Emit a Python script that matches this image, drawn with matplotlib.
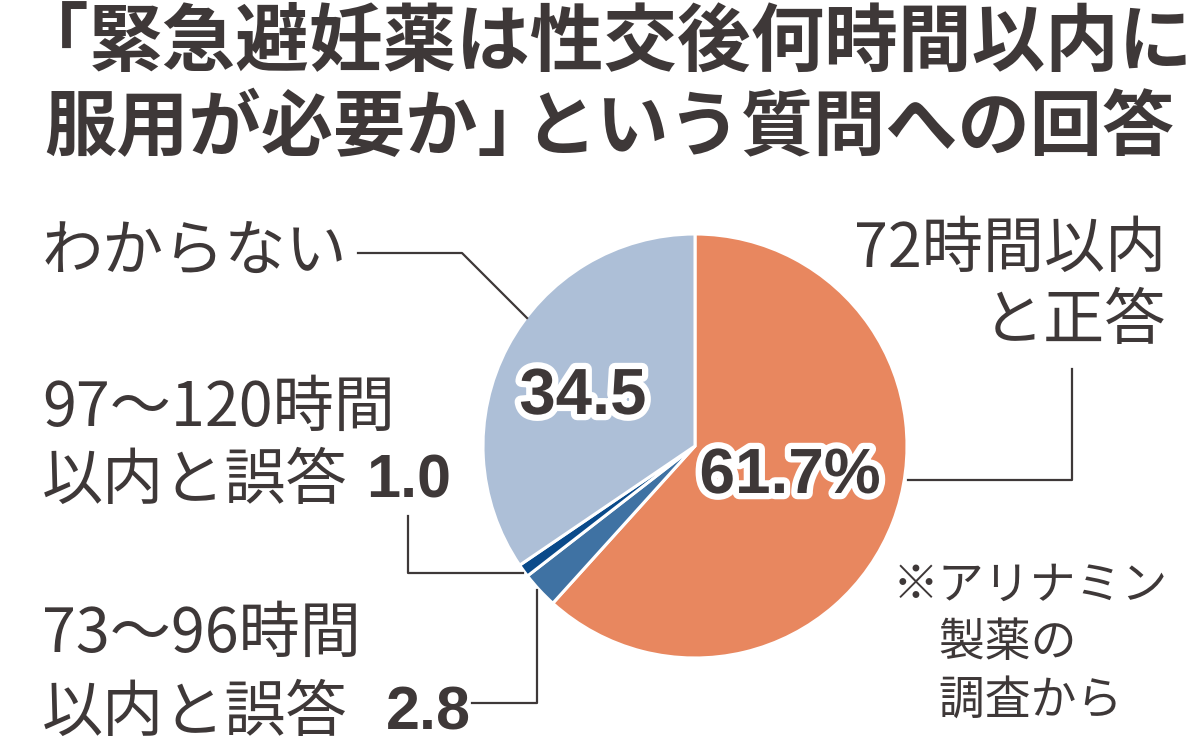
import matplotlib
matplotlib.use("Agg")
import matplotlib.pyplot as plt
import matplotlib.patheffects as pe

plt.rcParams['font.family'] = ['Noto Sans CJK JP', 'DejaVu Sans']

# data
categories = ['72時間以内と正答', '73〜96時間以内と誤答', '97〜120時間以内と誤答', 'わからない']
values = [61.7, 2.8, 1.0, 34.5]
colors = ['#E8875F', '#3F72A3', '#0A4A8A', '#ADBFD7']

title1 = ['「', '緊急避妊薬は性交後何時間以内に']
title2 = ['服用が必要か」', 'という質問への回答']
note = ['※アリナミン', '　製薬の', '　調査から']

W, H = 1200, 754
ink = '#3E3838'
num_font = ['Liberation Sans', 'DejaVu Sans']


def Y(y):
    # pixel-from-top -> data y
    return H - y


fig = plt.figure(figsize=(W / 100, H / 100), dpi=100)
ax = fig.add_axes([0, 0, 1, 1])

wedges, _ = ax.pie(values, colors=colors, startangle=90, counterclock=False,
                   center=(695, Y(446)), radius=212,
                   wedgeprops=dict(edgecolor='white', linewidth=2.2))
ax.set_xlim(0, W)
ax.set_ylim(0, H)
ax.set_aspect('equal')
ax.axis('off')

# title (brackets set tight like the original)
tt = dict(fontweight='bold', color=ink, va='center')
ax.text(15, Y(44), title1[0], ha='left', fontsize=53, **tt)
ax.text(89, Y(44), title1[1], ha='left', fontsize=53, **tt)
ax.text(44, Y(129), title2[0], ha='left', fontsize=52, **tt)
ax.text(1174, Y(129), title2[1], ha='right', fontsize=52, **tt)

# values inside pie
stroke = [pe.Stroke(linewidth=9, foreground='white'), pe.Normal()]
ax.text(583, Y(397), f'{values[3]:.1f}', fontsize=47, fontweight='bold',
        family=num_font, color=ink, ha='center', va='center', path_effects=stroke)
ax.text(790, Y(476), f'{values[0]:.1f}%', fontsize=46, fontweight='bold',
        family=num_font, color=ink, ha='center', va='center', path_effects=stroke)

lab = dict(fontsize=44, color=ink, va='center')
num = dict(fontsize=44, fontweight='bold', family=num_font, color=ink,
           ha='left', va='center')
line = dict(color=ink, lw=1.6)

# わからない
ax.text(42, Y(253), 'わからない', ha='left', **lab)
ax.plot([358, 462, 527], [Y(253), Y(253), Y(318)], **line)

# 72時間以内と正答
ax.text(1166, Y(250), '72時間以内', ha='right', **lab)
ax.text(1166, Y(322), 'と正答', ha='right', **lab)
ax.plot([908, 1072, 1072], [Y(480), Y(480), Y(369)], **line)

# 97〜120時間 以内と誤答 1.0
ax.text(42, Y(409), '97〜120時間', ha='left', **lab)
ax.text(42, Y(482), '以内と誤答', ha='left', **lab)
ax.text(366, Y(482), f'{values[2]:.1f}', **num)
ax.plot([408, 408, 523], [Y(516), Y(573), Y(573)], **line)

# 73〜96時間 以内と誤答 2.8
ax.text(42, Y(635), '73〜96時間', ha='left', **lab)
ax.text(42, Y(714), '以内と誤答', ha='left', **lab)
ax.text(386, Y(714), f'{values[1]:.1f}', **num)
ax.plot([472, 537, 537], [Y(703), Y(703), Y(590)], **line)

# source note
for i, s in enumerate(note):
    ax.text(893, Y(586 + 57 * i), s, fontsize=33, color=ink, ha='left', va='center')

fig.savefig('out.png', dpi=100, facecolor='white')
